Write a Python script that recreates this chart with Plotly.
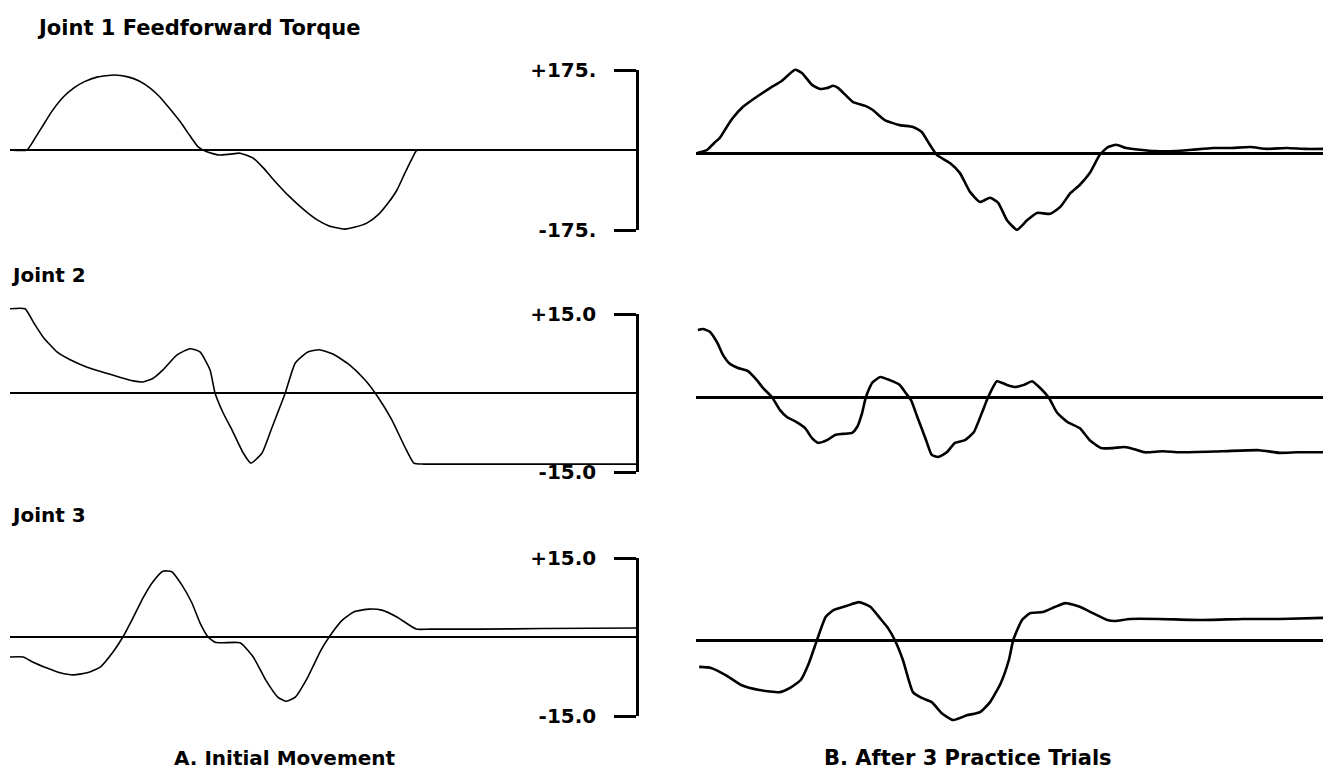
import plotly.graph_objects as go

W, H = 1333, 779

# ---------------- data (time in % of trial, torque in scale units) ----------------
a1_t = [0, 2.7, 4.0, 5.1, 6.7, 8.5, 10.2, 11.8, 14.0, 16.6, 18.8, 20.6, 22.3, 23.9, 25.5, 27.3, 28.7, 30.0, 31.4, 33.3,
        35.1, 36.7, 38.8, 40.4, 42.1, 44.5, 46.9, 49.0, 50.9, 53.3, 55.2, 56.9, 58.7, 60.3, 61.7, 63.0, 64.0, 64.8, 65.4,
        70, 80, 90, 100]
a1_v = [0, 0, 26, 50, 85, 116, 136, 149, 160, 164, 160, 151, 136, 116, 90, 59, 31, 7, -4, -11,
        -9, -7, -18, -39, -66, -101, -131, -153, -166, -173, -168, -160, -142, -116, -88, -50, -22, -2, 0,
        0, 0, 0, 0]

b1_t = [0.2, 1.8, 2.9, 3.8, 4.9, 5.9, 7.5, 9.7, 11.8, 13.7, 15.8, 16.9, 18.5, 19.8, 20.9, 21.9, 22.7, 23.4, 25.0, 27.0,
        28.2, 30.1, 32.5, 34.6, 36.0, 37.3, 38.4, 40.5, 42.1, 43.7, 45.3, 46.9, 48.2, 49.6, 51.2, 52.8, 54.4, 56.5, 58.1, 59.7,
        61.2, 62.8, 64.4, 65.7, 67.0, 68.6, 70.8, 73.2, 76.4, 79.1, 82.5, 85.2, 88.4, 91.1, 94.3, 97.1, 100]
b1_v = [0, 7, 22, 33, 57, 77, 101, 123, 142, 158, 182, 175, 149, 140, 142, 147, 142, 133, 112, 103,
        94, 72, 61, 57, 46, 18, -4, -22, -44, -85, -107, -98, -109, -147, -168, -147, -131, -133, -118, -88,
        -70, -44, -4, 13, 18, 11, 7, 4, 4, 7, 11, 11, 13, 9, 11, 9, 9]

a2_t = [0, 2.4, 3.7, 5.3, 7.5, 9.6, 12.3, 14.7, 17.5, 19.6, 21.2, 22.7, 24.4, 26.6, 28.7, 30.3, 31.9, 32.7, 34.0, 35.4,
        37.2, 38.4, 40.2, 41.8, 43.9, 45.5, 47.5, 49.3, 51.5, 54.2, 56.6, 58.7, 60.9, 63.0, 64.4,
        66, 70, 80, 90, 100]
a2_v = [16.0, 16.0, 13.5, 10.6, 7.8, 6.3, 4.9, 4.0, 3.0, 2.3, 2.1, 2.7, 4.4, 7.2, 8.4, 7.8, 4.4, 0, -3.8, -7.0,
        -11.4, -13.3, -11.4, -6.5, 0, 5.7, 7.8, 8.2, 7.4, 5.3, 2.5, -0.8, -5.1, -10.3, -13.3,
        -13.5, -13.5, -13.5, -13.5, -13.5]

b2_t = [0.3, 1.1, 2.2, 3.4, 4.3, 5.4, 6.7, 8.3, 9.7, 10.7, 12.1, 13.4, 14.5, 16.1, 17.4, 18.5, 19.5, 20.9, 22.2, 23.4,
        24.9, 25.7, 26.5, 27.1, 28.1, 29.4, 30.9, 32.5, 33.3, 34.3, 35.3, 36.7, 37.6, 38.6, 40.0, 41.3, 42.9, 44.3, 45.6, 46.6,
        48.0, 49.6, 50.9, 52.3, 53.6, 54.9, 56.3, 57.6, 59.3, 61.2, 62.8, 64.6, 66.5, 68.3, 69.9, 71.6, 74.5, 77.2, 83.9, 89.8,
        93.1, 95.9, 100]
b2_v = [12.7, 12.9, 12.4, 10.3, 8.0, 6.3, 5.5, 4.9, 3.2, 1.7, 0, -2.5, -3.8, -4.8, -5.9, -7.8, -8.7, -8.2, -7.2, -7.0,
        -6.8, -5.7, -3.0, 0, 2.7, 3.8, 3.2, 2.3, 1.0, -0.6, -3.8, -8.2, -11.0, -11.4, -10.5, -8.7, -8.2, -6.7, -3.0, 0,
        3.0, 2.3, 1.9, 2.3, 3.0, 1.7, -0.2, -3.0, -4.8, -5.9, -8.2, -9.7, -9.7, -9.5, -9.9, -10.5, -10.3, -10.5, -10.3, -10.1,
        -10.6, -10.5, -10.5]

a3_t = [0, 2.1, 3.7, 5.9, 8.0, 10.1, 12.3, 14.4, 16.4, 18.0, 19.6, 21.2, 22.8, 24.4, 25.8, 27.4, 29.0, 30.3, 31.6, 32.7,
        34.0, 36.7, 38.8, 40.8, 42.7, 44.0, 45.5, 47.5, 49.6, 50.9, 53.0, 54.9, 57.3, 59.3, 61.7, 64.8,
        67, 75, 85, 100]
a3_v = [-3.8, -3.8, -4.8, -5.9, -6.8, -7.2, -6.8, -5.7, -2.9, 0, 3.6, 7.4, 10.5, 12.5, 12.4, 9.9, 6.5, 2.7, 0, -1.0,
        -1.1, -1.1, -3.8, -8.2, -11.4, -12.2, -11.4, -7.6, -2.5, 0, 3.2, 4.8, 5.3, 5.1, 3.8, 1.5,
        1.5, 1.5, 1.6, 1.7]

b3_t = [0.5, 2.4, 4.8, 7.3, 10.1, 13.4, 15.0, 16.7, 18.0, 19.3, 20.7, 22.0, 24.1, 26.0, 27.8, 29.3, 30.6, 31.7, 33.0, 34.6,
        36.0, 37.6, 39.2, 41.0, 43.2, 45.3, 46.9, 48.6, 49.9, 50.6, 52.0, 53.3, 55.3, 57.3, 58.9, 61.2, 63.3, 65.6, 66.8, 69.2,
        73.8, 80.5, 87.2, 93.1, 100]
b3_v = [-5.1, -5.3, -6.7, -8.6, -9.5, -9.9, -9.1, -7.6, -4.4, 0, 4.4, 5.7, 6.5, 7.2, 6.3, 4.2, 2.3, 0, -3.8, -9.9,
        -11.0, -11.8, -13.9, -15.2, -14.3, -13.7, -11.8, -8.2, -3.8, 0, 3.8, 5.1, 5.3, 6.3, 7.0, 6.3, 5.1, 3.8, 3.6, 4.0,
        4.0, 3.8, 4.0, 4.0, 4.2]

row_titles = ["Joint 1 Feedforward Torque", "Joint 2", "Joint 3"]
scale_ticks = [175, 15, 15]
scale_text = [["-175.", "+175."], ["-15.0", "+15.0"], ["-15.0", "+15.0"]]
col_titles = ["A. Initial Movement", "B. After 3 Practice Trials"]

series = [[(a1_t, a1_v), (b1_t, b1_v)],
          [(a2_t, a2_v), (b2_t, b2_v)],
          [(a3_t, a3_v), (b3_t, b3_v)]]

# ---------------- geometry (pixels) ----------------
col_x = [(10, 637), (696, 1323)]
zero_px = [(150, 153), (393, 397), (637, 640)]
px_per_unit = [80 / 175, 79 / 15, 79 / 15]
half_range = [210, 18, 18]


def ydom(z, s, r):
    top = z - r * s
    bot = z + r * s
    return [1 - bot / H, 1 - top / H]


FONT = "DejaVu Sans"
fig = go.Figure()
layout = {}

for r in range(3):
    for c in range(2):
        idx = r * 2 + c + 1
        sfx = "" if idx == 1 else str(idx)
        t, v = series[r][c]
        fig.add_trace(go.Scatter(
            x=t, y=v, mode="lines", xaxis="x" + sfx, yaxis="y" + sfx,
            line=dict(color="black", width=1.6 if c == 0 else 2.6, shape="spline", smoothing=0.5),
            showlegend=False, hoverinfo="skip"))
        x0, x1 = col_x[c]
        layout["xaxis" + sfx] = dict(domain=[x0 / W, x1 / W], range=[0, 100], visible=False,
                                     anchor="y" + sfx, fixedrange=True, automargin=False)
        layout["yaxis" + sfx] = dict(domain=ydom(zero_px[r][c], px_per_unit[r], half_range[r]),
                                     range=[-half_range[r], half_range[r]], anchor="x" + sfx,
                                     showticklabels=False, showgrid=False, showline=False, ticks="",
                                     zeroline=True, zerolinecolor="black", automargin=False,
                                     zerolinewidth=2 if c == 0 else 2.5, fixedrange=True)

    # scale bracket (axis) at the right end of the left panel
    bidx = 7 + r
    xs = "" if r == 0 else str(r * 2 + 1)
    fig.add_trace(go.Scatter(x=[None], y=[None], mode="lines", xaxis="x" + xs, yaxis="y" + str(bidx),
                             showlegend=False, hoverinfo="skip"))
    T = scale_ticks[r]
    layout["yaxis" + str(bidx)] = dict(
        domain=ydom(zero_px[r][0], px_per_unit[r], T), range=[-T, T],
        anchor="free", position=col_x[0][1] / W, side="left",
        showline=True, linecolor="black", linewidth=2.5,
        ticks="outside", ticklen=22, tickwidth=2.5, tickcolor="black",
        tickvals=[-T, T], ticktext=scale_text[r], ticklabelstandoff=14,
        tickfont=dict(family=FONT, size=20, color="black", weight="bold"),
        showgrid=False, zeroline=False, fixedrange=True, automargin=False)

ann = []
title_pos = [(35, 28, 21), (9, 275, 20), (9, 515, 20)]
for r in range(3):
    px, py, sz = title_pos[r]
    ann.append(dict(text=row_titles[r], x=px / W, y=1 - py / H, xref="paper", yref="paper",
                    xanchor="left", yanchor="middle", showarrow=False,
                    font=dict(family=FONT, size=sz, color="black", weight="bold")))
for c, (cx, sz) in enumerate([(285, 20), (968, 21)]):
    ann.append(dict(text=col_titles[c], x=cx / W, y=1 - 758 / H, xref="paper", yref="paper",
                    xanchor="center", yanchor="middle", showarrow=False,
                    font=dict(family=FONT, size=sz, color="black", weight="bold")))

fig.update_layout(**layout)
fig.update_layout(template="none", width=W, height=H, margin=dict(l=0, r=0, t=0, b=0, pad=0, autoexpand=False),
                  paper_bgcolor="white", plot_bgcolor="rgba(0,0,0,0)",
                  annotations=ann, showlegend=False)

fig.write_html("out.html", config={"displayModeBar": False})
